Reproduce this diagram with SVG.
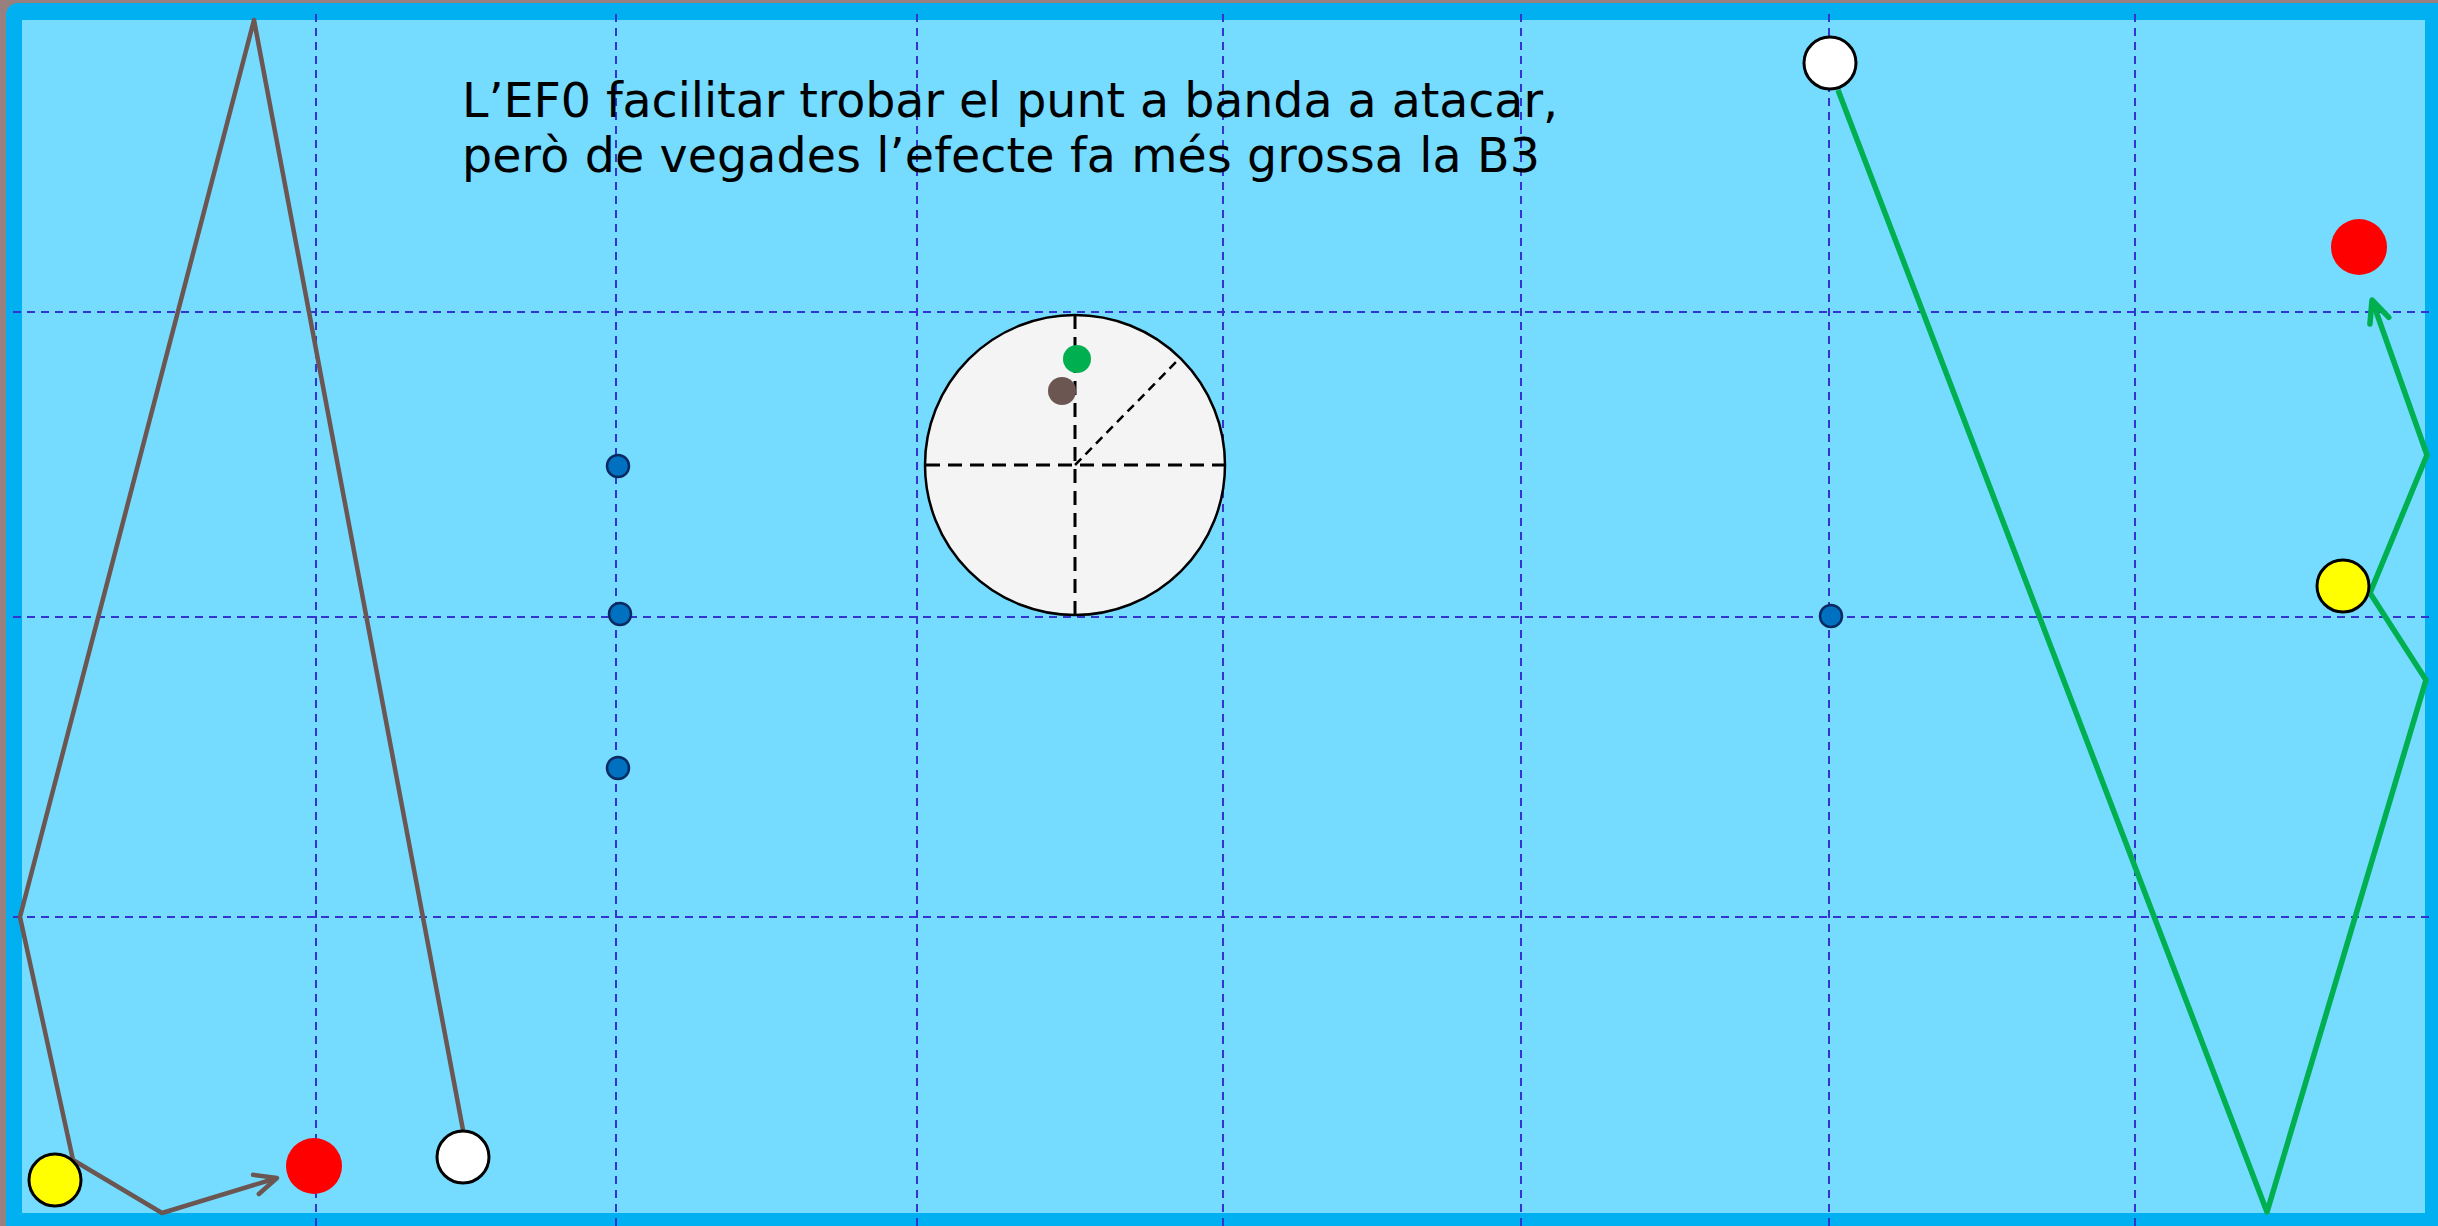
<svg xmlns="http://www.w3.org/2000/svg" width="2438" height="1226" viewBox="0 0 2438 1226">
<style>
.grid{stroke:#3434D0;stroke-width:2;stroke-dasharray:8 6;fill:none}
.ball{stroke:#000;stroke-width:3}
.dot{fill:#0070C0;stroke:#0A2A60;stroke-width:2.5}
.brown{stroke:#6B5652;stroke-width:4.5;fill:none;stroke-linejoin:round}
.green{stroke:#00B050;stroke-width:5.5;fill:none;stroke-linejoin:round}
.txt{font-family:"DejaVu Sans",Verdana,sans-serif;font-size:47.5px;fill:#000}
</style>
<defs>
<marker id="ab" markerUnits="userSpaceOnUse" markerWidth="40" markerHeight="40" refX="26" refY="12" orient="auto" viewBox="0 0 40 24">
<path d="M4,2 L26,12 L4,22" fill="none" stroke="#6B5652" stroke-width="4.5" stroke-linecap="round" stroke-linejoin="round"/>
</marker>
<marker id="ag" markerUnits="userSpaceOnUse" markerWidth="40" markerHeight="40" refX="26" refY="12" orient="auto" viewBox="0 0 40 24">
<path d="M4,2 L26,12 L4,22" fill="none" stroke="#00B050" stroke-width="5.5" stroke-linecap="round" stroke-linejoin="round"/>
</marker>
</defs>
<rect x="0" y="0" width="2438" height="1226" fill="#998080"/>
<rect x="6" y="3" width="2450" height="1240" rx="12" fill="#00B0F0"/>
<rect x="22" y="20" width="2403" height="1193" fill="#75DBFF"/>
<g id="grid">
<line class="grid" x1="316" y1="14" x2="316" y2="1226"/>
<line class="grid" x1="616" y1="14" x2="616" y2="1226"/>
<line class="grid" x1="917" y1="14" x2="917" y2="1226"/>
<line class="grid" x1="1223" y1="14" x2="1223" y2="1226"/>
<line class="grid" x1="1521" y1="14" x2="1521" y2="1226"/>
<line class="grid" x1="1829" y1="14" x2="1829" y2="1226"/>
<line class="grid" x1="2135" y1="14" x2="2135" y2="1226"/>
<line class="grid" x1="13" y1="312" x2="2433" y2="312"/>
<line class="grid" x1="13" y1="617" x2="2433" y2="617"/>
<line class="grid" x1="13" y1="917" x2="2433" y2="917"/>
</g>
<g id="title">
<text class="txt" x="462" y="117" textLength="1096" lengthAdjust="spacing">L’EF0 facilitar trobar el punt a banda a atacar,</text>
<text class="txt" x="462" y="172" textLength="1078" lengthAdjust="spacing">però de vegades l’efecte fa més grossa la B3</text>
</g>
<g id="connectors">
<polyline class="brown" points="463,1130 254,20 20,917 73,1160 162,1213 277,1178" marker-end="url(#ab)"/>
<polyline class="green" points="1838,90 2267,1212 2426,680 2370,593 2427,455 2372,300" marker-end="url(#ag)"/>
</g>
<g id="spin-diagram">
<circle cx="1075" cy="465" r="150" fill="#F4F4F4" stroke="#000" stroke-width="2.5"/>
<line x1="926" y1="465" x2="1224" y2="465" stroke="#000" stroke-width="3" stroke-dasharray="14 8"/>
<line x1="1075" y1="315" x2="1075" y2="615" stroke="#000" stroke-width="3" stroke-dasharray="14 8"/>
<line x1="1075" y1="465" x2="1179" y2="359" stroke="#000" stroke-width="2.5" stroke-dasharray="9 6"/>
<circle cx="1077" cy="359" r="14" fill="#00B050"/>
<circle cx="1062" cy="391" r="14" fill="#6B5652"/>
</g>
<g id="dots">
<circle class="dot" cx="618" cy="466" r="11"/>
<circle class="dot" cx="620" cy="614" r="11"/>
<circle class="dot" cx="618" cy="768" r="11"/>
<circle class="dot" cx="1831" cy="616" r="11"/>
</g>
<g id="left-balls">
<circle id="white-left" class="ball" cx="463" cy="1157" r="26" fill="#fff"/>
<circle id="yellow-left" class="ball" cx="55" cy="1180" r="26" fill="#FFFF00"/>
<circle id="red-left" cx="314" cy="1166" r="28" fill="#FF0000"/>
</g>
<g id="right-balls">
<circle id="white-right" class="ball" cx="1830" cy="63" r="26" fill="#fff"/>
<circle id="yellow-right" class="ball" cx="2343" cy="586" r="26" fill="#FFFF00"/>
<circle id="red-right" cx="2359" cy="247" r="28" fill="#FF0000"/>
</g>
</svg>
